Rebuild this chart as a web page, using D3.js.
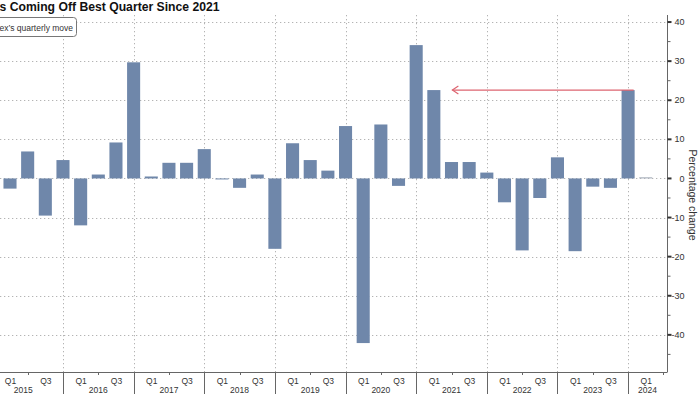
<!DOCTYPE html>
<html>
<head>
<meta charset="utf-8">
<script src="https://cdn.jsdelivr.net/npm/d3@7"></script>
<style>
  html, body { margin: 0; padding: 0; background: #fff; }
  svg { display: block; font-family: "Liberation Sans", Arial, sans-serif; }
</style>
</head>
<body>
<svg id="chart" width="700" height="394"></svg>
<script>
const quarters = [
  "Q1 2015","Q2 2015","Q3 2015","Q4 2015",
  "Q1 2016","Q2 2016","Q3 2016","Q4 2016",
  "Q1 2017","Q2 2017","Q3 2017","Q4 2017",
  "Q1 2018","Q2 2018","Q3 2018","Q4 2018",
  "Q1 2019","Q2 2019","Q3 2019","Q4 2019",
  "Q1 2020","Q2 2020","Q3 2020","Q4 2020",
  "Q1 2021","Q2 2021","Q3 2021","Q4 2021",
  "Q1 2022","Q2 2022","Q3 2022","Q4 2022",
  "Q1 2023","Q2 2023","Q3 2023","Q4 2023",
  "Q1 2024"
];
const quarterlyMove = [
  -2.6, 6.9, -9.5, 4.7,
  -12.0, 1.0, 9.2, 29.7,
  0.5, 4.0, 4.0, 7.5,
  -0.1, -2.4, 1.0, -18.0,
  9.0, 4.7, 2.0, 13.4,
  -42.1, 13.8, -1.9, 34.1,
  22.6, 4.2, 4.2, 1.5,
  -6.1, -18.4, -5.0, 5.4,
  -18.6, -2.1, -2.4, 22.6,
  0.3
];
const years = ["2015","2016","2017","2018","2019","2020","2021","2022","2023","2024"];
const yMajorTicks = [-40, -30, -20, -10, 0, 10, 20, 30, 40];
const yMinorTicks = [-45, -35, -25, -15, -5, 5, 15, 25, 35];
const titleText = "s Coming Off Best Quarter Since 2021";
const legendText = "ex\u2019s quarterly move";
const yAxisTitle = "Percentage change";
const arrowFrom = "Q4 2023";
const arrowTo = "Q1 2021";

const svg = d3.select("#chart");
const plotLeft = 0, plotRight = 667, plotTop = 15, plotBottom = 372;
const barColor = "#6f87aa";
const gridColor = "#b4b4b4";
const axisColor = "#666";
const textColor = "#333";

const step = 17.66;
const x = d3.scaleBand()
  .domain(quarters)
  .range([1.17, 1.17 + quarters.length * step])
  .paddingInner(0.26)
  .paddingOuter(0.13);
const bw = x.bandwidth();
const cx = q => x(q) + bw / 2;

const y = d3.scaleLinear().domain([-49.5, 41.8]).range([plotBottom, plotTop]);

// horizontal gridlines
svg.append("g").selectAll("line").data(yMajorTicks).join("line")
  .attr("x1", plotLeft).attr("x2", plotRight)
  .attr("y1", d => Math.round(y(d)) + 0.5).attr("y2", d => Math.round(y(d)) + 0.5)
  .attr("stroke", gridColor).attr("stroke-width", 1)
  .attr("stroke-dasharray", "1.3,2.7");

// vertical gridlines at year boundaries (Q4 positions)
const q4s = quarters.filter(q => q.startsWith("Q4"));
svg.append("g").selectAll("line").data(q4s).join("line")
  .attr("x1", d => Math.round(cx(d)) + 0.5).attr("x2", d => Math.round(cx(d)) + 0.5)
  .attr("y1", plotTop).attr("y2", plotBottom)
  .attr("stroke", gridColor).attr("stroke-width", 1)
  .attr("stroke-dasharray", "1.3,2.7");

// bars
svg.append("g").selectAll("rect").data(quarters).join("rect")
  .attr("x", d => x(d))
  .attr("width", bw)
  .attr("y", (d, i) => Math.min(y(quarterlyMove[i]), y(0)))
  .attr("height", (d, i) => Math.max(1, Math.abs(y(quarterlyMove[i]) - y(0))))
  .attr("fill", (d, i) => i === quarters.length - 1 ? "#aab2be" : barColor);

// red arrow
const arrowY = y(quarterlyMove[quarters.indexOf(arrowFrom)]);
const ax1 = x(arrowFrom) + bw - 1;
const ax2 = x(arrowTo) + bw + 12;
svg.append("line")
  .attr("x1", ax1).attr("x2", ax2).attr("y1", arrowY).attr("y2", arrowY)
  .attr("stroke", "#dd6470").attr("stroke-width", 1.3);
svg.append("path")
  .attr("d", `M${ax2 + 6},${arrowY - 4} L${ax2},${arrowY} L${ax2 + 6},${arrowY + 4}`)
  .attr("fill", "none").attr("stroke", "#dd6470").attr("stroke-width", 1.2);

// right axis
const yAxis = svg.append("g").attr("transform", `translate(${plotRight + 0.5},0)`);
yAxis.append("line").attr("x1", 0).attr("x2", 0).attr("y1", plotTop).attr("y2", plotBottom)
  .attr("stroke", axisColor).attr("stroke-width", 1);
yAxis.selectAll("line.major").data(yMajorTicks).join("line").attr("class", "major")
  .attr("x1", 0).attr("x2", 4).attr("y1", d => y(d)).attr("y2", d => y(d))
  .attr("stroke", "#333").attr("stroke-width", 2);
yAxis.selectAll("line.minor").data(yMinorTicks).join("line").attr("class", "minor")
  .attr("x1", 0).attr("x2", 3).attr("y1", d => y(d)).attr("y2", d => y(d))
  .attr("stroke", axisColor).attr("stroke-width", 1);
yAxis.selectAll("text").data(yMajorTicks).join("text")
  .attr("x", 17).attr("y", d => y(d)).attr("dy", "0.35em")
  .attr("text-anchor", "end").attr("font-size", 9).attr("fill", textColor)
  .text(d => d);

svg.append("text")
  .attr("transform", `translate(689,195) rotate(90)`)
  .attr("text-anchor", "middle").attr("font-size", 10.5).attr("fill", textColor)
  .text(yAxisTitle);

// bottom axis
const xAxis = svg.append("g");
xAxis.append("line").attr("x1", plotLeft).attr("x2", plotRight + 0.5)
  .attr("y1", plotBottom + 0.5).attr("y2", plotBottom + 0.5)
  .attr("stroke", axisColor).attr("stroke-width", 1);
// year separators
xAxis.selectAll("line.sep").data(q4s).join("line").attr("class", "sep")
  .attr("x1", d => Math.round(cx(d)) + 0.5).attr("x2", d => Math.round(cx(d)) + 0.5)
  .attr("y1", plotBottom).attr("y2", 394)
  .attr("stroke", axisColor).attr("stroke-width", 1);
// minor ticks at Q2
const q2s = quarters.filter(q => q.startsWith("Q2"));
xAxis.selectAll("line.minor").data(q2s).join("line").attr("class", "minor")
  .attr("x1", d => Math.round(cx(d)) + 0.5).attr("x2", d => Math.round(cx(d)) + 0.5)
  .attr("y1", plotBottom).attr("y2", plotBottom + 3)
  .attr("stroke", axisColor).attr("stroke-width", 1);
xAxis.append("line")
  .attr("x1", Math.round(cx(quarters[quarters.length - 1]) + step) + 0.5)
  .attr("x2", Math.round(cx(quarters[quarters.length - 1]) + step) + 0.5)
  .attr("y1", plotBottom).attr("y2", plotBottom + 3)
  .attr("stroke", axisColor).attr("stroke-width", 1);
// quarter labels
const qLabels = quarters.filter(q => q.startsWith("Q1") || q.startsWith("Q3"));
xAxis.selectAll("text.q").data(qLabels).join("text").attr("class", "q")
  .attr("x", d => cx(d) + 0.5).attr("y", 383.5)
  .attr("text-anchor", "middle").attr("font-size", 8.5).attr("fill", textColor)
  .text(d => d.split(" ")[0]);
// year labels centered between separators
xAxis.selectAll("text.yr").data(years).join("text").attr("class", "yr")
  .attr("x", yr => {
    const prev = quarters.indexOf("Q4 " + (+yr - 1));
    const cur = quarters.indexOf("Q4 " + yr);
    const left = prev >= 0 ? cx(quarters[prev]) : cx("Q1 " + yr) - 1.5 * step;
    const right = cur >= 0 ? cx(quarters[cur]) : plotRight;
    return (left + right) / 2;
  })
  .attr("y", 393)
  .attr("text-anchor", "middle").attr("font-size", 8.5).attr("fill", textColor)
  .text(d => d);

// title
svg.append("text").attr("x", -0.5).attr("y", 11)
  .attr("font-size", 12.2).attr("font-weight", "bold").attr("fill", "#111")
  .text(titleText);

// legend box
svg.append("rect").attr("x", -8.5).attr("y", 17.5).attr("width", 85).attr("height", 19)
  .attr("rx", 3).attr("fill", "#fff").attr("stroke", "#777").attr("stroke-width", 1);
svg.append("text").attr("x", -0.5).attr("y", 30.5)
  .attr("font-size", 8.5).attr("fill", "#333")
  .text(legendText);
</script>
</body>
</html>
